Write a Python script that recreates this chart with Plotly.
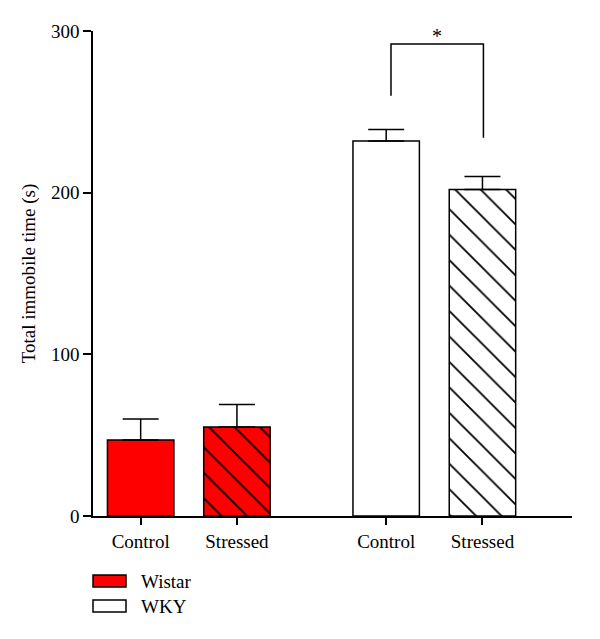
import plotly.graph_objects as go

categories = ["Control", "Stressed", "Control", "Stressed"]
x_pos = [0.0, 1.0, 2.55, 3.55]
groups = ["Wistar", "Wistar", "WKY", "WKY"]
means = [47, 55, 232, 202]
sem = [13, 14, 7, 8]
fills = ["#ff0000", "#ff0000", "#ffffff", "#ffffff"]
patterns = ["", "\\", "", "\\"]
sig_levels = [260, 292, 234]  # left start, top, right end
legend_names = ["Wistar", "WKY"]
legend_colors = ["#ff0000", "#ffffff"]

FONT = "Liberation Serif"
# plot area in page pixels: left 93, right 572, top 31, bottom 516 (page has 8px body offset)
PL, PR, PT, PB = 93, 572, 31, 516
PW, PH = PR - PL, PB - PT

fig = go.Figure()
for xp, m, s, c, p in zip(x_pos, means, sem, fills, patterns):
    fig.add_trace(go.Bar(
        x=[xp], y=[m], width=0.69,
        marker=dict(color=c, line=dict(color="black", width=1.5),
                    pattern=dict(shape=p, fgcolor="#000000", fgopacity=1,
                                 fillmode="overlay", size=18, solidity=0.1)),
        error_y=dict(type="data", array=[s], arrayminus=[0], symmetric=False,
                     color="black", thickness=1.5, width=18),
        showlegend=False,
    ))

# significance bracket
xl, xr = 2.60, 3.56
fig.add_trace(go.Scatter(
    x=[xl, xl, xr, xr], y=[sig_levels[0], sig_levels[1], sig_levels[1], sig_levels[2]],
    mode="lines", line=dict(color="black", width=1.5), showlegend=False, hoverinfo="skip"))
fig.add_annotation(x=(xl+xr)/2, y=sig_levels[1], text="*", showarrow=False,
                   yanchor="bottom", yshift=-5, font=dict(family=FONT, size=20, color="black"))

# legend built manually
for i, (name, col) in enumerate(zip(legend_names, legend_colors)):
    ytop = 575 + i * 25
    fig.add_shape(type="rect", xref="paper", yref="paper",
                  x0=(93 - PL) / PW, x1=(126 - PL) / PW,
                  y0=(PB - (ytop + 12)) / PH, y1=(PB - ytop) / PH,
                  fillcolor=col, line=dict(color="black", width=1.5))
    fig.add_annotation(xref="paper", yref="paper", x=(139 - PL) / PW, y=(PB - (ytop + 6)) / PH,
                       text=name, showarrow=False, xanchor="left", yanchor="middle",
                       font=dict(family=FONT, size=19, color="black"))

fig.update_layout(
    width=600, height=639,
    barmode="overlay",
    margin=dict(l=PL - 8, r=600 - PR + 8, t=PT - 8, b=639 - PB + 8, autoexpand=False),
    plot_bgcolor="white", paper_bgcolor="white",
    font=dict(family=FONT, size=19, color="black"),
    xaxis=dict(range=[-0.495, 4.48], tickvals=x_pos, ticktext=categories,
               showline=True, linecolor="black", linewidth=1.5,
               ticks="outside", ticklen=7, tickwidth=1.5, tickcolor="black",
               showgrid=False, zeroline=False, tickfont=dict(size=19), automargin=False),
    yaxis=dict(range=[0, 300], tickvals=[0, 100, 200, 300],
               showline=True, linecolor="black", linewidth=1.5,
               ticks="outside", ticklen=8, tickwidth=1.5, tickcolor="black",
               showgrid=False, zeroline=False, tickfont=dict(size=19), automargin=False,
               title=dict(text="Total immobile time (s)", font=dict(size=19), standoff=10)),
)

fig.write_html("out.html")
